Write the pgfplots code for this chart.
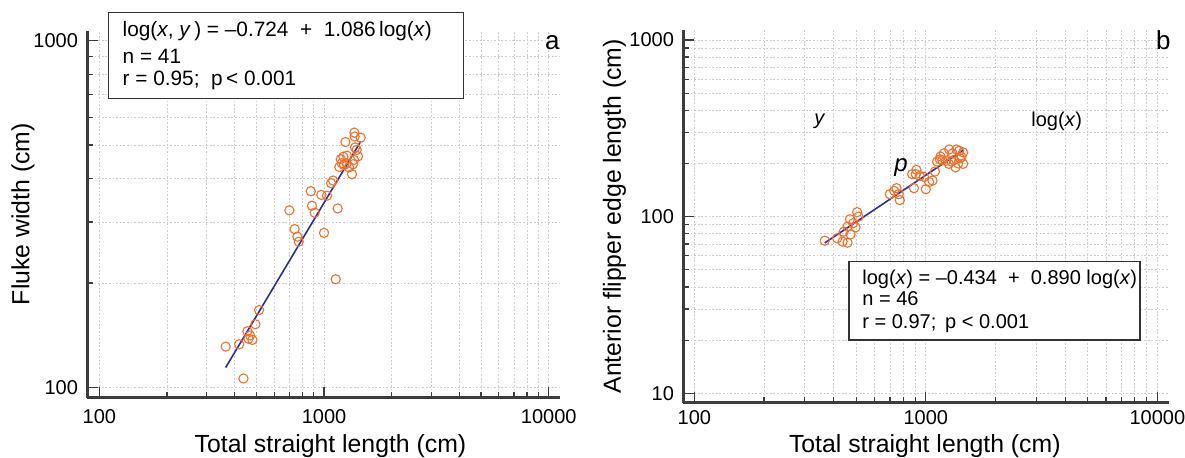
\documentclass[border=0pt]{standalone}
\usepackage{fontspec}
\setmainfont{Liberation Sans}
\usepackage{pgfplots}
\pgfplotsset{compat=1.18}

\definecolor{ptorange}{RGB}{240,112,45}
\definecolor{fitblue}{RGB}{45,45,150}
\definecolor{spine}{RGB}{60,60,60}

\begin{document}
\begin{tikzpicture}
\path[use as bounding box] (0pt,0pt) rectangle (592.5pt,-229pt);

% ---- panel a: fluke width
\begin{axis}[
  xmode=log, ymode=log, scale only axis,
  at={(43.65pt,-198.85pt)}, anchor=south west,
  width=236.35pt, height=183.5pt,
  xmin=88.4, xmax=11227, ymin=93.3, ymax=1069,
  axis x line*=bottom, axis y line*=left,
  axis line style={spine, line width=1.5pt},
  tick align=inside,
  major tick length=5.5pt, minor tick length=3pt,
  every tick/.append style={spine, line width=0.6pt},
  grid=both,
  major grid style={black!20, dash pattern=on 0.9pt off 0.9pt, line width=0.4pt},
  minor grid style={black!20, dash pattern=on 0.9pt off 0.9pt, line width=0.4pt},
  xtick={100,1000,10000}, xticklabels={100,1000,10000},
  minor xtick={200,300,400,500,600,700,800,900,2000,3000,4000,5000,6000,7000,8000,9000},
  ytick={100,1000}, yticklabels={100,1000},
  minor ytick={200,300,400,500,600,700,800,900},
  every tick label/.append style={font=\fontsize{10}{12}\selectfont},
  xticklabel style={anchor=base, yshift=-13.15pt},
  yticklabel style={anchor=east, inner sep=0pt, xshift=-4.5pt},
  every axis label/.append style={font=\fontsize{12.4}{14}\selectfont},
  xlabel style={at={(axis description cs:0.5145,0)}, anchor=base, yshift=-27.5pt},
  ylabel style={at={(axis description cs:-0.1223,0.5)}, anchor=base},
  xlabel={Total straight length (cm)},
  ylabel={Fluke width (cm)},
]
\addplot[fitblue, line width=0.8pt, mark=none] coordinates {(365,114) (1456,512)};
\addplot[only marks, mark=o, mark size=2.3pt, mark options={ptorange, line width=0.55pt}] coordinates {
  (1365,543) (1369,529) (1456,525) (1245,510) (1374,492) (1266,466)
  (1417,464) (1187,455) (1262,443) (1346,440) (1227,438) (1170,432)
  (1332,412) (1097,395) (1075,388) (873,368) (973,359) (1031,357)
  (884,334) (701,324) (1150,328) (909,319) (740,286) (761,272)
  (772,263) (1000,279) (1127,205) (514,167) (495,152) (456,145)
  (469,141) (461,138) (480,137) (419,133) (365,131) (438,106)
  (1199,443) (1398,484) (1292,431) (1360,453) (1219,463)
};
\end{axis}

% ---- panel b: anterior flipper edge length
\begin{axis}[
  xmode=log, ymode=log, scale only axis,
  at={(341.65pt,-201.35pt)}, anchor=south west,
  width=242.85pt, height=186.35pt,
  xmin=89.6, xmax=11233, ymin=8.85, ymax=1139,
  axis x line*=bottom, axis y line*=left,
  axis line style={spine, line width=1.5pt},
  tick align=inside,
  major tick length=5.5pt, minor tick length=3pt,
  every tick/.append style={spine, line width=0.6pt},
  grid=both,
  major grid style={black!20, dash pattern=on 0.9pt off 0.9pt, line width=0.4pt},
  minor grid style={black!20, dash pattern=on 0.9pt off 0.9pt, line width=0.4pt},
  xtick={100,1000,10000}, xticklabels={100,1000,10000},
  minor xtick={200,300,400,500,600,700,800,900,2000,3000,4000,5000,6000,7000,8000,9000},
  ytick={10,100,1000}, yticklabels={10,100,1000},
  minor ytick={20,30,40,50,60,70,80,90,200,300,400,500,600,700,800,900},
  every tick label/.append style={font=\fontsize{10}{12}\selectfont},
  xticklabel style={anchor=base, yshift=-11.15pt},
  yticklabel style={anchor=east, inner sep=0pt, xshift=-4.5pt},
  every axis label/.append style={font=\fontsize{12.4}{14}\selectfont},
  xlabel style={at={(axis description cs:0.4972,0)}, anchor=base, yshift=-25pt},
  ylabel style={at={(axis description cs:-0.1283,0.5)}, anchor=base},
  xlabel={Total straight length (cm)},
  ylabel={Anterior flipper edge length (cm)},
]
\addplot[fitblue, line width=0.8pt, mark=none] coordinates {(366,71) (1450,238)};
\addplot[only marks, mark=o, mark size=2.3pt, mark options={ptorange, line width=0.55pt}] coordinates {
  (366,73.1) (414,75.4) (437,72.2) (459,71.2) (442,82.2) (459,87.8)
  (497,87.0) (470,96.6) (512,100) (505,106) (699,134) (747,145)
  (772,124) (764,134) (888,145) (905,174) (911,184) (873,174)
  (981,168) (1000,143) (1034,157) (1094,180) (1119,205) (1150,211)
  (1196,228) (1261,240) (1304,228) (1357,240) (1393,236) (1449,231)
  (1220,207) (1257,199) (1321,209) (1403,214) (1380,200) (1449,199)
  (1344,190) (1291,205) (1157,219) (473,79.4) (485,91.7) (1069,160)
  (1426,217) (1177,209) (942,170) (730,140)
};
\end{axis}

% ---- statistics boxes and panel letters
\draw[fill=white, draw=black!80, line width=0.6pt] (54.25pt,-6.35pt) rectangle (231.75pt,-49.15pt);
\node[anchor=base west, inner sep=0pt, font=\fontsize{10.4}{12}\selectfont] at (61.15pt,-18.35pt) {log(\textit{x}, \textit{y}\,) = –0.724 \ + \ 1.086\,log(\textit{x})};
\node[anchor=base west, inner sep=0pt, font=\fontsize{10.4}{12}\selectfont] at (61.15pt,-31.65pt) {n = 41};
\node[anchor=base west, inner sep=0pt, font=\fontsize{10.4}{12}\selectfont] at (61.15pt,-43pt) {r = 0.95; \ p\,< 0.001};

\draw[fill=white, draw=black!80, line width=0.6pt] (424.5pt,-130.85pt) rectangle (570pt,-170pt);
\node[anchor=base west, inner sep=0pt, font=\fontsize{10}{12}\selectfont] at (431pt,-142.5pt) {log(\textit{x}) = –0.434 \ + \ 0.890 log(\textit{x})};
\node[anchor=base west, inner sep=0pt, font=\fontsize{10}{12}\selectfont] at (431pt,-153pt) {n = 46};
\node[anchor=base west, inner sep=0pt, font=\fontsize{10}{12}\selectfont] at (431pt,-164.5pt) {r = 0.97; \,p < 0.001};

\node[anchor=base east, inner sep=0pt, font=\fontsize{13}{15}\selectfont] at (280pt,-25pt) {a};
\node[anchor=base east, inner sep=0pt, font=\fontsize{13}{15}\selectfont] at (585.5pt,-25pt) {b};

\node[anchor=base west, inner sep=0pt, font=\fontsize{10}{12}\selectfont] at (407pt,-62.5pt) {\textit{y}};
\node[anchor=base west, inner sep=0pt, font=\fontsize{10}{12}\selectfont] at (515.5pt,-63.5pt) {log(\textit{x})};
\node[anchor=base west, inner sep=0pt, font=\fontsize{12}{14}\selectfont] at (447pt,-86pt) {\textit{p}};
\end{tikzpicture}
\end{document}
